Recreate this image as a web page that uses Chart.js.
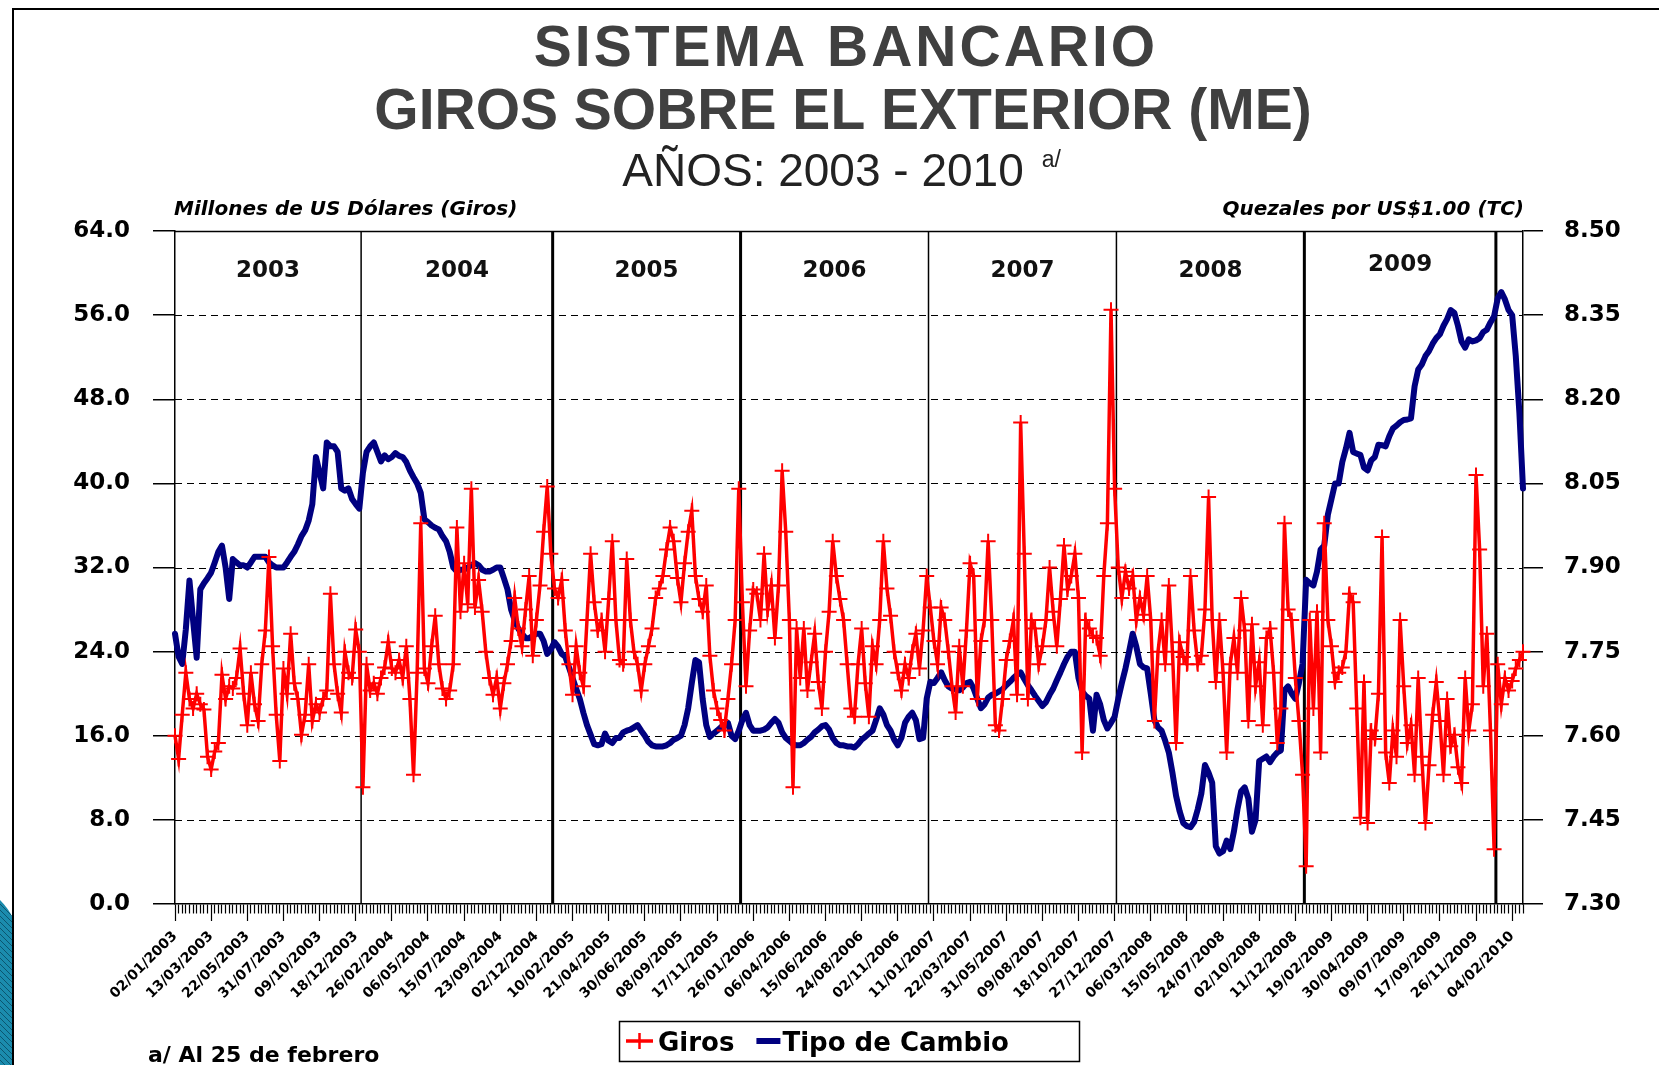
<!DOCTYPE html>
<html>
<head>
<meta charset="utf-8">
<title>Sistema Bancario - Giros sobre el exterior (ME)</title>
<script src="https://cdn.jsdelivr.net/npm/chart.js@4.4.1/dist/chart.umd.min.js"></script>
<style>
  html, body { margin: 0; padding: 0; background: #fff; }
  #wrap { width: 1659px; height: 1065px; }
</style>
</head>
<body>
<div id="wrap"><canvas id="chart" width="1659" height="1065"></canvas></div>
<script>
// weekly data, first week 02/01/2003, last 25/02/2010
const startDate = '2003-01-02';

// Giros, millones de US$ (left axis)
const giros = [
  16, 13.8, 18, 22, 19.5, 18.6, 20, 19, 18.5, 14,
  12.8, 14.5, 15.3, 21.8, 19.5, 20.7, 20.5, 21.5, 24.3, 20,
  17, 22, 19, 17.4, 22.8, 26, 33, 24.5, 18, 13.6,
  22.4, 20, 25.7, 21, 19.5, 16.1, 18, 22.8, 17.4, 19,
  18.2, 19.5, 20.3, 29.5, 22.8, 20, 18.2, 24, 22, 21.5,
  26.1, 24, 11.1, 22.8, 20.3, 21, 20, 21.5, 22.5, 24.9,
  22.4, 22, 23.2, 21.5, 24.5, 19.5, 12.3, 22, 36.2, 22.4,
  21, 24.5, 27.4, 22.8, 20.5, 19.5, 20.3, 22.8, 35.8, 27.8,
  32.4, 28.5, 39.5, 28.2, 30.8, 27.8, 24, 21.5, 19.9, 21.5,
  18.6, 21, 22.8, 25, 29.1, 26.2, 24.5, 28, 31.2, 23.6,
  27, 30.3, 35.4, 39.7, 33.3, 30, 29.1, 30.8, 26, 22.8,
  19.9, 24.5, 22, 20.7, 27, 33.3, 28.7, 26, 27, 24,
  29, 34.5, 27, 23.2, 22.8, 32.8, 27, 24, 22.8, 20.3,
  22.8, 24.5, 26.2, 29.1, 30, 31.2, 33.7, 35.8, 34.5, 31,
  28.7, 32.4, 35.4, 37.4, 31.2, 29, 27.8, 30.3, 23.6, 20.3,
  18.6, 17.5, 16.5, 19.5, 22.8, 27, 39.5, 28.7, 20.7, 26,
  29.9, 29.5, 27, 33.3, 28, 30.3, 25.3, 30.3, 41.2, 35.4,
  27, 11.1, 26.2, 21.5, 26.2, 20.3, 23, 25.7, 21.1, 18.6,
  24, 27.8, 34.5, 31.2, 29, 27, 22.8, 18.6, 17.8, 22.8,
  26.2, 21, 17.8, 24.5, 22.8, 27, 34.5, 30, 27.4, 24,
  22, 20.3, 22.8, 21.5, 24, 25.7, 22.4, 26, 31.2, 28.2,
  25, 22.8, 28.2, 27, 24, 20.7, 18.2, 24.5, 20.7, 26,
  32.4, 31.2, 19.5, 25, 27, 34.5, 27, 17, 16.5, 19.5,
  23.2, 25, 27, 19.9, 45.8, 33.3, 19.5, 27, 26.2, 22.8,
  24.5, 27, 32, 27.8, 24.5, 29, 34.1, 29.9, 31.2, 33.3,
  29.1, 14.4, 27, 26.2, 25.5, 25.3, 23.6, 31.2, 36.2, 56.5,
  39.5, 32, 29.1, 31.6, 30, 31.2, 27, 29.1, 27.5, 31.2,
  27, 17.4, 24, 27, 22.8, 30.3, 24, 15.3, 24.9, 23.5,
  22.8, 31.2, 26, 22.8, 23.6, 28, 38.7, 27, 21.1, 27,
  22, 14.4, 22.8, 25.3, 22, 29.1, 26, 17.4, 26.6, 20.7,
  23, 17, 25.3, 26.2, 22, 15.3, 18.6, 36.2, 28, 27,
  21.5, 17.4, 12.3, 3.6, 27, 18.6, 27.8, 14.4, 36.2, 27,
  24.5, 21.1, 22, 22.5, 24, 29.5, 28.7, 18.6, 8.2, 21.1,
  7.7, 16.5, 15.7, 20, 34.9, 14.4, 11.5, 16.5, 14, 27,
  20.7, 15.3, 17, 12.3, 21.5, 14, 7.7, 13.2, 18, 21.1,
  17.4, 12.3, 19.5, 15, 16.1, 13, 11.5, 21.5, 16.5, 19,
  40.8, 33.7, 20.7, 25.7, 16.5, 5.2, 22.8, 19, 21.5, 20.3,
  21.2, 22.4, 23.2, 24
];

// Tipo de cambio, quetzales por US$1.00 (right axis)
const tipoCambio = [
  7.782, 7.741, 7.728, 7.790, 7.877, 7.806, 7.739, 7.861, 7.872, 7.881,
  7.891, 7.909, 7.928, 7.939, 7.900, 7.844, 7.915, 7.909, 7.904, 7.904,
  7.900, 7.909, 7.919, 7.919, 7.919, 7.919, 7.909, 7.904, 7.900, 7.900,
  7.900, 7.909, 7.919, 7.928, 7.941, 7.956, 7.966, 7.984, 8.013, 8.097,
  8.069, 8.041, 8.123, 8.116, 8.116, 8.106, 8.041, 8.037, 8.041, 8.022,
  8.013, 8.005, 8.069, 8.106, 8.116, 8.123, 8.106, 8.089, 8.100, 8.093,
  8.097, 8.104, 8.099, 8.097, 8.088, 8.073, 8.061, 8.050, 8.033, 7.986,
  7.981, 7.975, 7.971, 7.968, 7.956, 7.947, 7.928, 7.900, 7.893, 7.896,
  7.896, 7.900, 7.904, 7.908, 7.904, 7.896, 7.893, 7.893, 7.896, 7.900,
  7.900, 7.881, 7.861, 7.825, 7.806, 7.791, 7.782, 7.774, 7.774, 7.778,
  7.782, 7.782, 7.769, 7.746, 7.754, 7.767, 7.759, 7.746, 7.741, 7.722,
  7.703, 7.684, 7.666, 7.641, 7.619, 7.602, 7.585, 7.583, 7.585, 7.604,
  7.591, 7.587, 7.596, 7.596, 7.606, 7.609, 7.611, 7.615, 7.619, 7.609,
  7.600, 7.589, 7.583, 7.581, 7.581, 7.581, 7.583, 7.587, 7.593, 7.596,
  7.600, 7.619, 7.649, 7.694, 7.735, 7.731, 7.666, 7.619, 7.598, 7.604,
  7.609, 7.615, 7.619, 7.623, 7.600, 7.594, 7.609, 7.628, 7.641, 7.619,
  7.609, 7.609, 7.609, 7.611, 7.615, 7.623, 7.630, 7.623, 7.606, 7.596,
  7.591, 7.585, 7.583, 7.583, 7.587, 7.593, 7.598, 7.606, 7.611, 7.617,
  7.619, 7.611, 7.596, 7.587, 7.583, 7.583, 7.581, 7.581, 7.579, 7.585,
  7.593, 7.598, 7.604, 7.609, 7.628, 7.649, 7.638, 7.619, 7.609, 7.593,
  7.583, 7.596, 7.623, 7.634, 7.641, 7.628, 7.594, 7.596, 7.666, 7.696,
  7.694, 7.703, 7.713, 7.699, 7.688, 7.684, 7.683, 7.681, 7.686, 7.694,
  7.696, 7.684, 7.666, 7.649, 7.656, 7.668, 7.673, 7.675, 7.679, 7.683,
  7.690, 7.696, 7.703, 7.709, 7.713, 7.701, 7.690, 7.681, 7.671, 7.662,
  7.653, 7.660, 7.673, 7.684, 7.699, 7.713, 7.728, 7.741, 7.750, 7.750,
  7.703, 7.679, 7.671, 7.666, 7.609, 7.673, 7.656, 7.628, 7.613, 7.623,
  7.634, 7.666, 7.694, 7.720, 7.750, 7.782, 7.759, 7.728, 7.722, 7.720,
  7.675, 7.628, 7.615, 7.609, 7.591, 7.570, 7.534, 7.493, 7.465, 7.444,
  7.439, 7.437, 7.446, 7.469, 7.497, 7.548, 7.534, 7.516, 7.403, 7.390,
  7.394, 7.413, 7.398, 7.429, 7.469, 7.501, 7.508, 7.488, 7.429, 7.450,
  7.555, 7.559, 7.563, 7.553, 7.563, 7.570, 7.574, 7.681, 7.688, 7.675,
  7.666, 7.694, 7.728, 7.878, 7.872, 7.868, 7.893, 7.932, 7.939, 7.994,
  8.022, 8.050, 8.050, 8.088, 8.112, 8.140, 8.106, 8.103, 8.101, 8.078,
  8.073, 8.091, 8.097, 8.119, 8.118, 8.116, 8.134, 8.148, 8.153, 8.159,
  8.163, 8.164, 8.166, 8.223, 8.253, 8.262, 8.277, 8.286, 8.299, 8.309,
  8.316, 8.331, 8.343, 8.359, 8.354, 8.331, 8.303, 8.292, 8.307, 8.303,
  8.305, 8.309, 8.320, 8.324, 8.337, 8.348, 8.380, 8.391, 8.378, 8.359,
  8.350, 8.277, 8.176, 8.041
];

const leftTicks = [0, 8, 16, 24, 32, 40, 48, 56, 64];
const rightTicks = [7.30, 7.45, 7.60, 7.75, 7.90, 8.05, 8.20, 8.35, 8.50];
const labelEvery = 10;      // one date label every 10 weeks
const heavyYears = [2005, 2006, 2009, 2010];

function pad2(n) { return (n < 10 ? '0' : '') + n; }

function buildWeeks(start, n) {
  const out = [];
  const t0 = Date.parse(start + 'T00:00:00Z');
  for (let i = 0; i < n; i++) {
    const d = new Date(t0 + i * 7 * 86400000);
    out.push(pad2(d.getUTCDate()) + '/' + pad2(d.getUTCMonth() + 1) + '/' + d.getUTCFullYear());
  }
  return out;
}

const weeks = buildWeeks(startDate, giros.length);

// position of each change of year, between the last week of one year and the first of the next
function yearBreaks(labels) {
  const out = [];
  for (let i = 1; i < labels.length; i++) {
    const y = labels[i].slice(6), p = labels[i - 1].slice(6);
    if (y !== p) out.push({ year: +y, at: i - 0.5 });
  }
  return out;
}

const breaks = yearBreaks(weeks);

function line(c, x1, y1, x2, y2) {
  c.beginPath();
  c.moveTo(x1, y1);
  c.lineTo(x2, y2);
  c.stroke();
}

const decor = {
  id: 'decor',
  beforeDraw(chart) {
    const c = chart.ctx;
    const W = chart.width, H = chart.height;
    c.save();
    c.fillStyle = '#fff';
    c.fillRect(0, 0, W, H);

    // blue corner shape at the bottom left
    c.beginPath();
    c.moveTo(0, 900);
    c.quadraticCurveTo(8, 908, 13, 918);
    c.lineTo(13, H);
    c.lineTo(0, H);
    c.closePath();
    c.fillStyle = '#1b8cae';
    c.fill();
    c.save();
    c.clip();
    c.strokeStyle = '#0b5670';
    c.lineWidth = 1;
    for (let y = 880; y < H + 20; y += 6) line(c, 0, y, 14, y + 14);
    c.restore();

    // page frame
    c.strokeStyle = '#000';
    c.lineWidth = 2;
    line(c, 12, 9, W, 9);
    line(c, 13, 8, 13, H);

    // titles
    c.textAlign = 'center';
    c.textBaseline = 'alphabetic';
    c.fillStyle = '#404040';
    c.font = 'bold 57px "Liberation Sans", Arial, sans-serif';
    c.letterSpacing = '3px';
    c.fillText('SISTEMA BANCARIO', 846, 66);
    c.letterSpacing = '0px';
    c.fillText('GIROS SOBRE EL EXTERIOR (ME)', 843, 129);

    c.fillStyle = '#222';
    c.font = '46px "Liberation Sans", Arial, sans-serif';
    const sub = 'AÑOS: 2003 - 2010';
    const sw = c.measureText(sub).width;
    c.fillText(sub, 823, 186);
    c.textAlign = 'left';
    c.font = '23px "Liberation Sans", Arial, sans-serif';
    c.fillText('a/', 823 + sw / 2 + 18, 167);

    // axis titles
    c.fillStyle = '#000';
    c.font = 'italic bold 20px "DejaVu Sans", sans-serif';
    c.textAlign = 'left';
    c.fillText('Millones de US Dólares (Giros)', 174, 215);
    c.textAlign = 'right';
    c.fillText('Quezales por US$1.00 (TC)', 1524, 215);

    // footnote
    c.textAlign = 'left';
    c.font = 'bold 22px "DejaVu Sans", sans-serif';
    c.fillText('a/ Al 25 de febrero', 148, 1062);
    c.restore();
  },
  beforeDatasetsDraw(chart) {
    const c = chart.ctx;
    const ca = chart.chartArea;
    const x = chart.scales.x, y = chart.scales.y;
    c.save();

    // dashed horizontal grid
    c.strokeStyle = '#000';
    c.lineWidth = 1;
    c.setLineDash([7, 5]);
    leftTicks.forEach(v => {
      if (v === 0 || v === 64) return;
      const py = Math.round(y.getPixelForValue(v)) + 0.5;
      line(c, ca.left, py, ca.right, py);
    });
    c.setLineDash([]);

    // solid top of the plot
    c.lineWidth = 1.5;
    line(c, ca.left, ca.top + 0.5, ca.right, ca.top + 0.5);

    // year separators and labels
    let prev = ca.left;
    let prevYear = +weeks[0].slice(6);
    const segs = [];
    breaks.forEach(b => {
      const px = x.getPixelForValue(b.at);
      c.lineWidth = heavyYears.indexOf(b.year) >= 0 ? 3 : 1.5;
      line(c, px, ca.top, px, ca.bottom);
      segs.push({ year: prevYear, a: prev, b: px });
      prev = px;
      prevYear = b.year;
    });
    segs.push({ year: prevYear, a: prev, b: ca.right });

    c.fillStyle = '#111';
    c.font = 'bold 23px "DejaVu Sans", sans-serif';
    c.textAlign = 'center';
    c.textBaseline = 'middle';
    segs.forEach(s => {
      if (s.b - s.a < 90) return;
      c.fillText(String(s.year), (s.a + s.b) / 2, s.year === 2009 ? 265 : 271);
    });
    c.restore();
  },
  afterDraw(chart) {
    // legend box
    const c = chart.ctx;
    const ca = chart.chartArea;
    const ds = chart.data.datasets;
    const boxW = 460, boxH = 40;
    const bx = Math.round((ca.left + ca.right) / 2 - boxW / 2);
    const by = 1021;
    const cy = by + boxH / 2;
    c.save();
    c.strokeStyle = '#000';
    c.lineWidth = 1.5;
    c.strokeRect(bx + 0.5, by + 0.5, boxW, boxH);

    c.font = 'bold 26px "DejaVu Sans", sans-serif';
    c.textAlign = 'left';
    c.textBaseline = 'alphabetic';
    c.fillStyle = '#000';

    let lx = bx + 7;
    c.strokeStyle = ds[0].borderColor;
    c.lineWidth = 3.5;
    line(c, lx, cy, lx + 27, cy);
    c.lineWidth = 2.5;
    line(c, lx + 13.5, cy - 8, lx + 13.5, cy + 8);
    lx += 32;
    c.fillText(ds[0].label, lx, cy + 9.5);
    lx += c.measureText(ds[0].label).width + 22;

    c.strokeStyle = ds[1].borderColor;
    c.lineWidth = 6;
    line(c, lx, cy, lx + 24, cy);
    lx += 26;
    c.fillText(ds[1].label, lx, cy + 9.5);
    c.restore();
  }
};

const tickFont = { family: '"DejaVu Sans", sans-serif', size: 23, weight: 'bold' };

const ctx = document.getElementById('chart').getContext('2d');
const chart = new Chart(ctx, {
  type: 'line',
  data: {
    labels: weeks,
    datasets: [
      {
        label: 'Giros',
        data: giros,
        yAxisID: 'y',
        borderColor: '#ff0000',
        backgroundColor: '#ff0000',
        borderWidth: 3.5,
        pointStyle: 'cross',
        pointRadius: 7.5,
        pointBorderWidth: 2,
        pointBorderColor: '#ff0000',
        pointHoverRadius: 7.5,
        tension: 0
      },
      {
        label: 'Tipo de Cambio',
        data: tipoCambio,
        yAxisID: 'y1',
        borderColor: '#000080',
        backgroundColor: '#000080',
        borderWidth: 6,
        pointRadius: 0,
        pointHoverRadius: 0,
        borderJoinStyle: 'round',
        borderCapStyle: 'round',
        tension: 0
      }
    ]
  },
  options: {
    responsive: false,
    animation: false,
    devicePixelRatio: 1,
    events: [],
    layout: { padding: { top: 231, left: 0, right: 0, bottom: 0 } },
    plugins: {
      legend: { display: false },
      tooltip: { enabled: false }
    },
    scales: {
      x: {
        grid: {
          drawOnChartArea: false,
          tickLength: 17,
          tickColor: '#000',
          tickWidth: 1.2,
          tickBorderDash: c => (c.index % labelEvery === 0 ? [] : [9, 40])
        },
        border: { color: '#000', width: 1.5 },
        ticks: {
          autoSkip: false,
          minRotation: 45,
          maxRotation: 45,
          padding: 7,
          color: '#000',
          font: { family: '"DejaVu Sans", sans-serif', size: 14, weight: 'bold' },
          callback: function (v, i) {
            return i % labelEvery === 0 ? this.getLabelForValue(v) : '';
          }
        },
        afterFit: s => { s.height = 161; }
      },
      y: {
        position: 'left',
        min: 0,
        max: 64,
        afterBuildTicks: s => { s.ticks = leftTicks.map(v => ({ value: v })); },
        grid: { drawOnChartArea: false, tickLength: 22, color: '#000', lineWidth: 1.5 },
        border: { color: '#000', width: 1.5 },
        ticks: { padding: 23, color: '#000', font: tickFont, callback: v => v.toFixed(1) },
        afterFit: s => { s.width = 175; }
      },
      y1: {
        position: 'right',
        min: 7.3,
        max: 8.5,
        afterBuildTicks: s => { s.ticks = rightTicks.map(v => ({ value: v })); },
        grid: { drawOnChartArea: false, tickLength: 20, color: '#000', lineWidth: 1.5 },
        border: { color: '#000', width: 1.5 },
        ticks: { padding: 21, color: '#000', font: tickFont, callback: v => v.toFixed(2) },
        afterFit: s => { s.width = 136; }
      }
    }
  },
  plugins: [decor]
});
</script>
</body>
</html>
